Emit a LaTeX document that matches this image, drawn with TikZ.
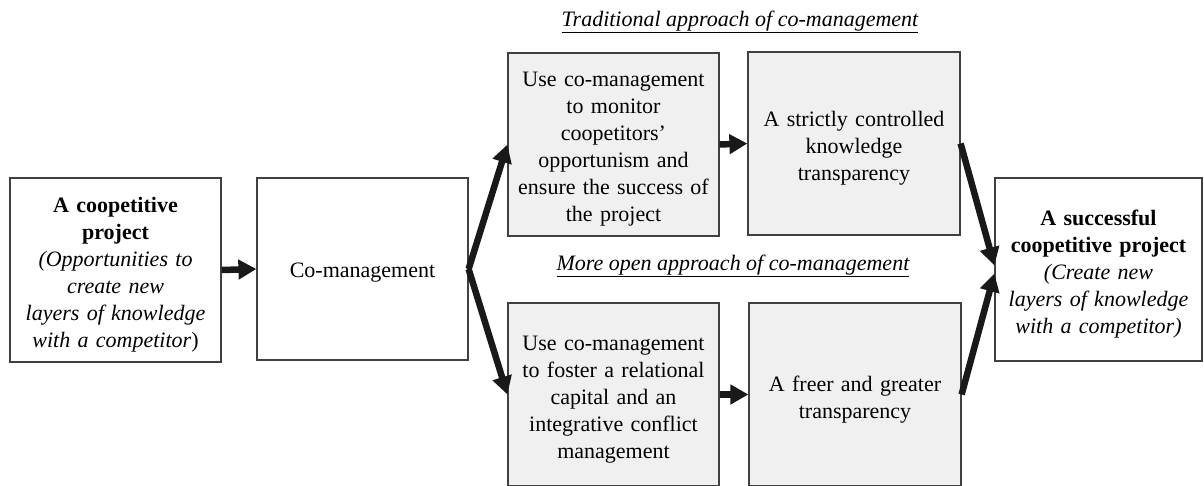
\documentclass[tikz,border=0pt]{standalone}
\usepackage{fontspec}
\setmainfont{Liberation Serif}
\usetikzlibrary{arrows.meta,calc}
\tikzset{
  box/.style={draw=black!75, line width=1.2pt, inner sep=0pt},
  gbox/.style={box, fill=black!6},
  txt/.style={align=center, inner sep=0pt, font=\fontsize{22}{27}\selectfont, text width=205pt},
  arr/.style={line width=6.5pt, black!90, -{Triangle[length=18pt,width=19pt]}},
  ttl/.style={font=\fontsize{22}{27}\selectfont\itshape}
}
\begin{document}
\begin{tikzpicture}[x=1pt,y=-1pt]
\useasboundingbox (0,0) rectangle (1204,485);
\node[box, minimum width=211pt, minimum height=184pt] (b1) at (115.5,270) {};
\node[box, minimum width=211pt, minimum height=182pt] (b2) at (362.5,269) {};
\node[gbox, minimum width=211pt, minimum height=183pt] (b3) at (613.5,144.5) {};
\node[gbox, minimum width=212pt, minimum height=183pt] (b4) at (854,143.5) {};
\node[gbox, minimum width=211pt, minimum height=183pt] (b5) at (613.5,394.5) {};
\node[gbox, minimum width=212pt, minimum height=183pt] (b6) at (855,394.5) {};
\node[box, minimum width=207pt, minimum height=183pt] (b7) at (1098.5,269.5) {};
\node[txt] (b1t) at ($(b1.center)+(0,5)$)
  {\textbf{A coopetitive}\\\textbf{project}\\\textit{(Opportunities to}\\\textit{create new}\\\textit{layers of knowledge}\\\textit{with a competitor})};
\node[txt] (b2t) at ($(b2.center)+(0,4)$) {Co-management};
\node[txt] (b3t) at ($(b3.center)+(0,5)$)
  {Use co-management\\to monitor\\coopetitors'\\opportunism and\\ensure the success of\\the project};
\node[txt] (b4t) at ($(b4.center)+(0,5)$)
  {A strictly controlled\\knowledge\\transparency};
\node[txt] (b5t) at ($(b5.center)+(0,5)$)
  {Use co-management\\to foster a relational\\capital and an\\integrative conflict\\management};
\node[txt] (b6t) at ($(b6.center)+(0,5)$)
  {A freer and greater\\transparency};
\node[txt] (b7t) at ($(b7.center)+(0,5)$)
  {\textbf{A successful}\\\textbf{coopetitive project}\\\textit{(Create new}\\\textit{layers of knowledge}\\\textit{with a competitor)}};
\node[ttl] (t1) at (740,22) {\underline{Traditional approach of co-management}};
\node[ttl] (t2) at (733,266) {\underline{More open approach of co-management}};
\draw[arr] (b1.east) -- (b2.west);
\draw[arr] (b2.east) -- (b3.west);
\draw[arr] (b2.east) -- (b5.west);
\draw[arr] (b3.east) -- (b4.west);
\draw[arr] (b5.east) -- (b6.west);
\draw[arr] (b4.east) -- ($(b7.west)+(0,-4)$);
\draw[arr] (b6.east) -- ($(b7.west)+(0,4)$);
\end{tikzpicture}
\end{document}
